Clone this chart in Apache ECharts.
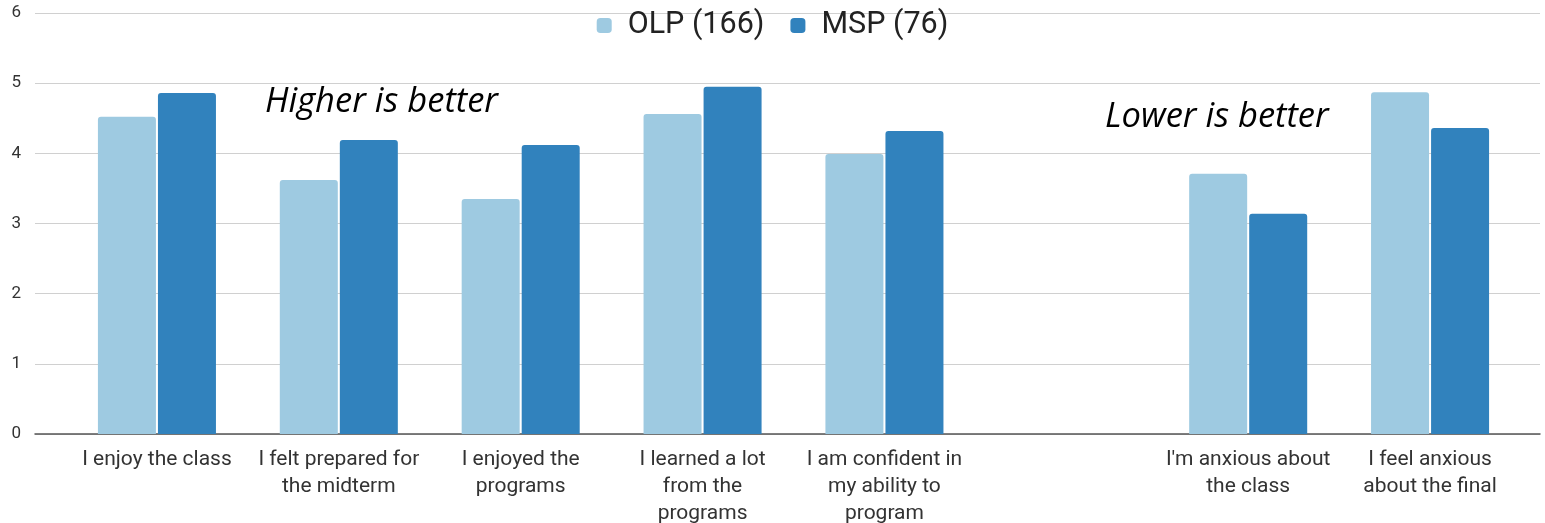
<!DOCTYPE html>
<html><head><meta charset="utf-8">
<script src="https://cdn.jsdelivr.net/npm/echarts@6/dist/echarts.min.js"></script>
<style>html,body{margin:0;padding:0;background:#fff}#c{width:1545px;height:523px}</style>
</head><body><div id="c"></div>
<script>
const categories = ["I enjoy the class", "I felt prepared for\nthe midterm", "I enjoyed the\nprograms", "I learned a lot\nfrom the\nprograms", "I am confident in\nmy ability to\nprogram", "", "I'm anxious about\nthe class", "I feel anxious\nabout the final"];
const olp = [4.52, 3.62, 3.35, 4.56, 3.99, null, 3.71, 4.87];
const msp = [4.86, 4.19, 4.12, 4.95, 4.32, null, 3.14, 4.36];
const seriesNames = ["OLP (166)", "MSP (76)"];
const yTicks = [0, 1, 2, 3, 4, 5, 6];
const notes = ["Higher is better", "Lower is better"];

const chart = echarts.init(document.getElementById('c'), null, {renderer: 'canvas'});
const yMin = yTicks[0], yMax = yTicks[yTicks.length - 1], yStep = yTicks[1] - yTicks[0];
chart.setOption({
  animation: false,
  legend: {
    top: 5, left: 'center', itemWidth: 15, itemHeight: 15, itemGap: 26,
    textStyle: {fontFamily: 'Roboto', fontSize: 30.5, color: '#222', padding: [0, 0, 0, 11]},
    data: seriesNames
  },
  grid: [
    {left: 35, right: 5, top: 13, bottom: 89, containLabel: false, outerBoundsMode: 'none'},
    {left: 66, right: 24, top: 13, bottom: 89, containLabel: false, outerBoundsMode: 'none'}
  ],
  xAxis: [
    {gridIndex: 0, type: 'category', data: [''], axisLine: {show: true, lineStyle: {color: '#555', width: 1.5}}, axisTick: {show: false}, axisLabel: {show: false}},
    {gridIndex: 1, type: 'category', data: categories, axisLine: {show: false}, axisTick: {show: false},
     axisLabel: {interval: 0, fontFamily: 'Roboto', fontSize: 21, color: '#333', lineHeight: 27, margin: 12}}
  ],
  yAxis: [
    {gridIndex: 0, type: 'value', min: yMin, max: yMax, interval: yStep,
     axisLine: {show: false}, axisTick: {show: false},
     axisLabel: {fontFamily: 'Roboto', fontSize: 17, color: '#333', margin: 14},
     splitLine: {lineStyle: {color: '#d0d0d0', width: 1.2}}},
    {gridIndex: 1, type: 'value', min: yMin, max: yMax, interval: yStep, show: false, splitLine: {show: false}}
  ],
  series: [
    {name: seriesNames[0], type: 'bar', xAxisIndex: 1, yAxisIndex: 1, data: olp, barWidth: 58, barGap: '3.5%',
     itemStyle: {color: '#9ecae1', borderRadius: [3, 3, 0, 0]}},
    {name: seriesNames[1], type: 'bar', xAxisIndex: 1, yAxisIndex: 1, data: msp, barWidth: 58, barGap: '3.5%',
     itemStyle: {color: '#3182bd', borderRadius: [3, 3, 0, 0]}}
  ],
  graphic: [
    {type: 'text', left: 265, top: 85, style: {text: notes[0], font: 'italic 34.5px "Open Sans"', fill: '#000'}},
    {type: 'text', left: 1105, top: 100, style: {text: notes[1], font: 'italic 34.5px "Open Sans"', fill: '#000'}}
  ]
});
</script></body></html>
